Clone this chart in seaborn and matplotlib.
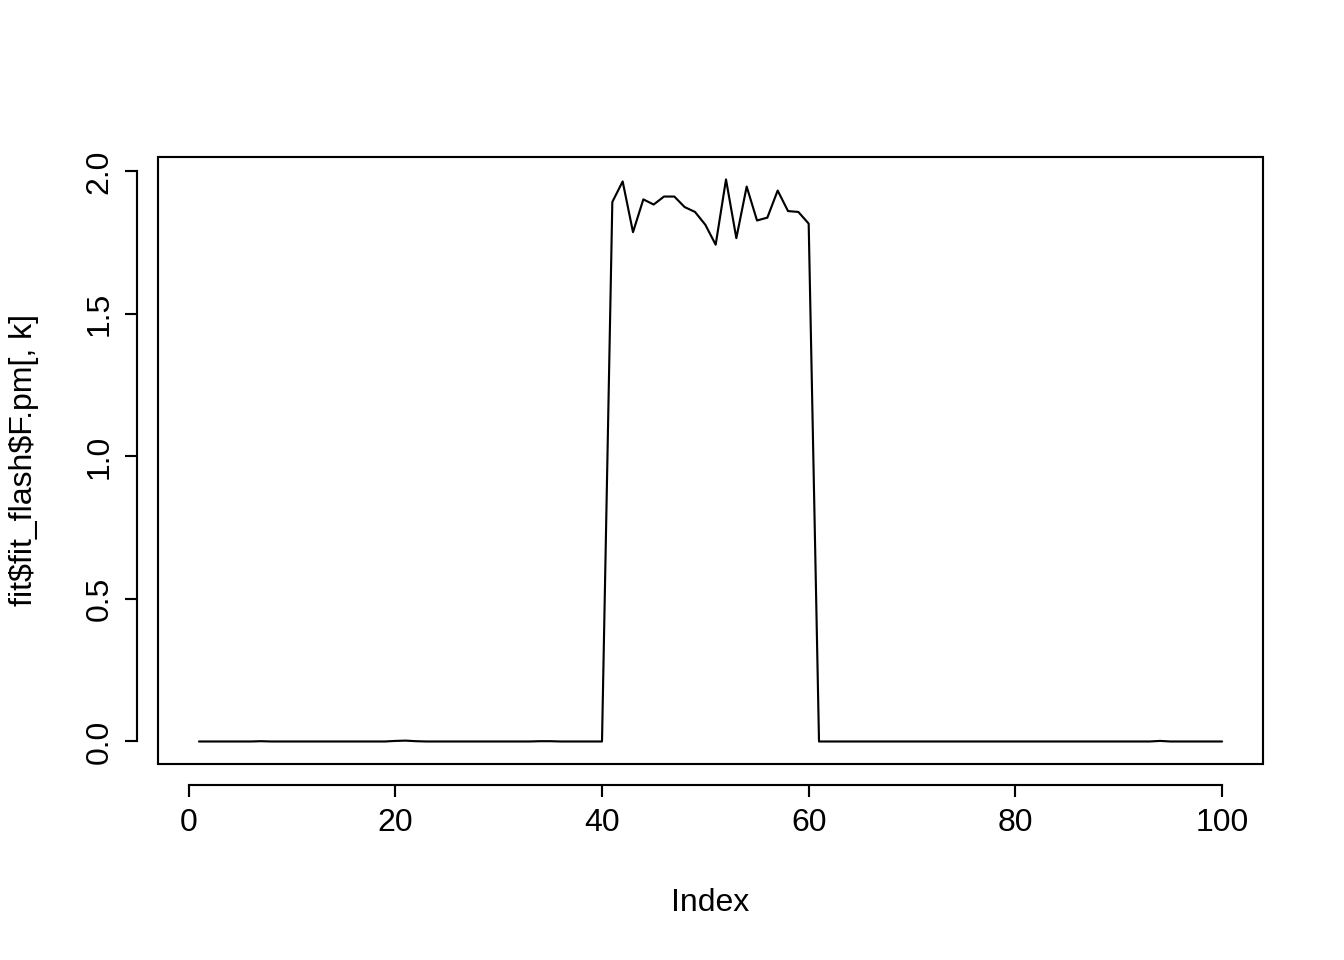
import numpy as np
import pandas as pd
import matplotlib
matplotlib.use("Agg")
import matplotlib.pyplot as plt
from matplotlib.patches import Rectangle
import seaborn as sns

# Data (index 1..100)
index = list(range(1, 101))
values_low = [0.0, 0.0, 0.0, 0.0, 0.0, 0.0, 0.001, 0.0, 0.0, 0.0,
              0.0, 0.0, 0.0, 0.0, 0.0, 0.0, 0.0, 0.0, 0.0, 0.002,
              0.003, 0.001, 0.0, 0.0, 0.0, 0.0, 0.0, 0.0, 0.0, 0.0,
              0.0, 0.0, 0.0, 0.001, 0.001, 0.0, 0.0, 0.0, 0.0, 0.0]
values_peak = [1.893, 1.965, 1.787, 1.902, 1.884, 1.912, 1.912, 1.875, 1.858, 1.813,
               1.743, 1.972, 1.766, 1.947, 1.828, 1.838, 1.933, 1.861, 1.858, 1.817]
values_high = [0.0, 0.0, 0.0, 0.0, 0.0, 0.0, 0.0, 0.0, 0.0, 0.0,
               0.0, 0.0, 0.0, 0.0, 0.0, 0.0, 0.0, 0.0, 0.0, 0.0,
               0.0, 0.0, 0.0, 0.0, 0.0, 0.0, 0.0, 0.0, 0.0, 0.0,
               0.0, 0.0, 0.0, 0.002, 0.0, 0.0, 0.0, 0.0, 0.0, 0.0]
values = values_low + values_peak + values_high

x_ticks = [0, 20, 40, 60, 80, 100]
y_ticks = [0.0, 0.5, 1.0, 1.5, 2.0]

df = pd.DataFrame({"Index": index, "value": values})

sns.set_style("white")
plt.rcParams['font.family'] = ['Liberation Sans', 'DejaVu Sans']
plt.rcParams['text.color'] = 'black'
plt.rcParams['axes.labelcolor'] = 'black'
plt.rcParams['xtick.color'] = 'black'
plt.rcParams['ytick.color'] = 'black'

fig = plt.figure(figsize=(7, 5), dpi=192)
ax = fig.add_axes([0.1176, 0.2042, 0.8221, 0.6323])

sns.lineplot(data=df, x="Index", y="value", color="black", linewidth=0.8, ax=ax)

# R-style 4% axis extension
xr = max(index) - min(index)
ax.set_xlim(min(index) - 0.04 * xr, max(index) + 0.04 * xr)
yr = max(values) - min(values)
ax.set_ylim(min(values) - 0.04 * yr, max(values) + 0.04 * yr)

# box around plot region
ax.add_patch(Rectangle((0, 0), 1, 1, transform=ax.transAxes, fill=False,
                       edgecolor="black", linewidth=0.8, clip_on=False))

# detached axes like base R
for side in ["top", "right"]:
    ax.spines[side].set_visible(False)
for side in ["left", "bottom"]:
    ax.spines[side].set_position(("outward", 7.9))
    ax.spines[side].set_color("black")
    ax.spines[side].set_linewidth(0.8)
ax.spines["bottom"].set_bounds(x_ticks[0], x_ticks[-1])
ax.spines["left"].set_bounds(y_ticks[0], y_ticks[-1])

ax.set_xticks(x_ticks)
ax.set_xticklabels([str(t) for t in x_ticks])
ax.set_yticks(y_ticks)
ax.set_yticklabels([f"{t:.1f}" for t in y_ticks])
ax.tick_params(axis="both", direction="out", length=4.5, width=0.8,
               color="black", labelcolor="black", labelsize=12, pad=4,
               bottom=True, left=True)
ax.tick_params(axis="y", labelrotation=90)
for lab in ax.get_yticklabels():
    lab.set_va("center")

ax.set_xlabel("Index", fontsize=12, labelpad=19)
ax.set_ylabel(r"fit\$fit_flash\$F.pm[, k]", fontsize=12, labelpad=17)

fig.savefig("out.png", dpi=192, facecolor="white")
